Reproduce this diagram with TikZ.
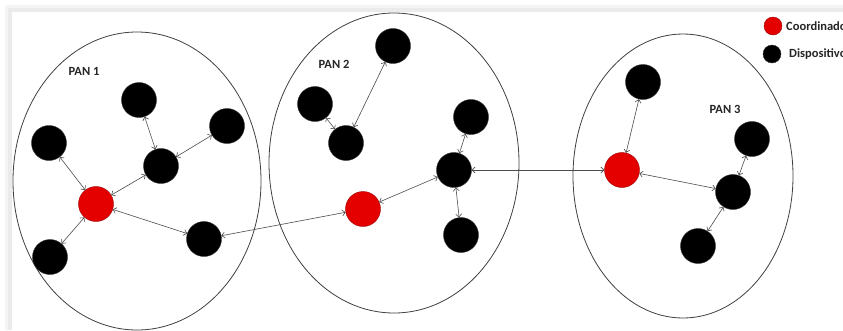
\documentclass[tikz,border=0pt]{standalone}
\usepackage{fontspec}
\setmainfont{Carlito}
\usetikzlibrary{arrows.meta}

\tikzset{
  dev/.style={circle, fill=black, draw=black!80, minimum size=35pt, inner sep=0pt},
  coord/.style={circle, fill=red!90!black, draw=red!60!black, minimum size=35pt, inner sep=0pt},
  pan/.style={draw=black!75, line width=0.8pt},
  link/.style={draw=black!70, line width=0.6pt, {Straight Barb[length=3pt,width=6pt]}-{Straight Barb[length=3pt,width=6pt]}},
  lbl/.style={font=\bfseries\fontsize{12.5}{14}\selectfont, text=black!85},
  key/.style={lbl, anchor=west, inner sep=0pt}
}

\begin{document}
\begin{tikzpicture}[x=1pt, y=-1pt]
        \useasboundingbox (0,0) rectangle (843,330);
        % frame shadow
        \fill[black!4] (5,5) rectangle (843,330);
        \fill[black!8] (8,8) rectangle (843,330);
        \fill[white] (12,12) rectangle (843,330);

        % the three PANs
        \draw[pan] (137,181) ellipse [x radius=124pt, y radius=149pt];
        \draw[pan] (394,163) ellipse [x radius=125pt, y radius=150pt];
        \draw[pan] (683,176) ellipse [x radius=110pt, y radius=142pt];
        \node[lbl] (l1) at (84,71) {PAN 1};
        \node[lbl] (l2) at (334,64) {PAN 2};
        \node[lbl] (l3) at (725,109) {PAN 3};

        % PAN 1
        \node[coord] (c1) at (96,204) {};
        \node[dev] (a1) at (49,143) {};
        \node[dev] (a2) at (50,257) {};
        \node[dev] (a3) at (161,166) {};
        \node[dev] (a4) at (139,100) {};
        \node[dev] (a5) at (227,126) {};
        \node[dev] (a6) at (204,239) {};
        \draw[link] (c1) -- (a1);
        \draw[link] (c1) -- (a2);
        \draw[link] (c1) -- (a3);
        \draw[link] (a3) -- (a4);
        \draw[link] (a3) -- (a5);
        \draw[link] (c1) -- (a6);

        % PAN 2
        \node[coord] (c2) at (363,209) {};
        \node[dev] (b1) at (393,46) {};
        \node[dev] (b2) at (315,104) {};
        \node[dev] (b3) at (346,143) {};
        \node[dev] (b4) at (454,170) {};
        \node[dev] (b5) at (471,117) {};
        \node[dev] (b6) at (461,235) {};
        \draw[link] (b1) -- (b3);
        \draw[link] (b2) -- (b3);
        \draw[link] (c2) -- (b4);
        \draw[link] (b4) -- (b5);
        \draw[link] (b4) -- (b6);

        % PAN 3
        \node[coord] (c3) at (622,170) {};
        \node[dev] (d1) at (643,82) {};
        \node[dev] (d2) at (733,192) {};
        \node[dev] (d3) at (752,139) {};
        \node[dev] (d4) at (698,246) {};
        \draw[link] (c3) -- (d1);
        \draw[link] (c3) -- (d2);
        \draw[link] (d2) -- (d3);
        \draw[link] (d2) -- (d4);

        % between PANs
        \draw[link] (a6) -- (c2);
        \draw[link] (b4) -- (c3);

        % legend (cut off at the right edge, as printed)
        \node[coord, minimum size=18pt] (kc) at (773,26) {};
        \node[dev, minimum size=18pt] (kd) at (772,54) {};
        \node[key] (tc) at (786,26) {Coordinador};
        \node[key] (td) at (789,54) {Dispositivos};
    \end{tikzpicture}
\end{document}
